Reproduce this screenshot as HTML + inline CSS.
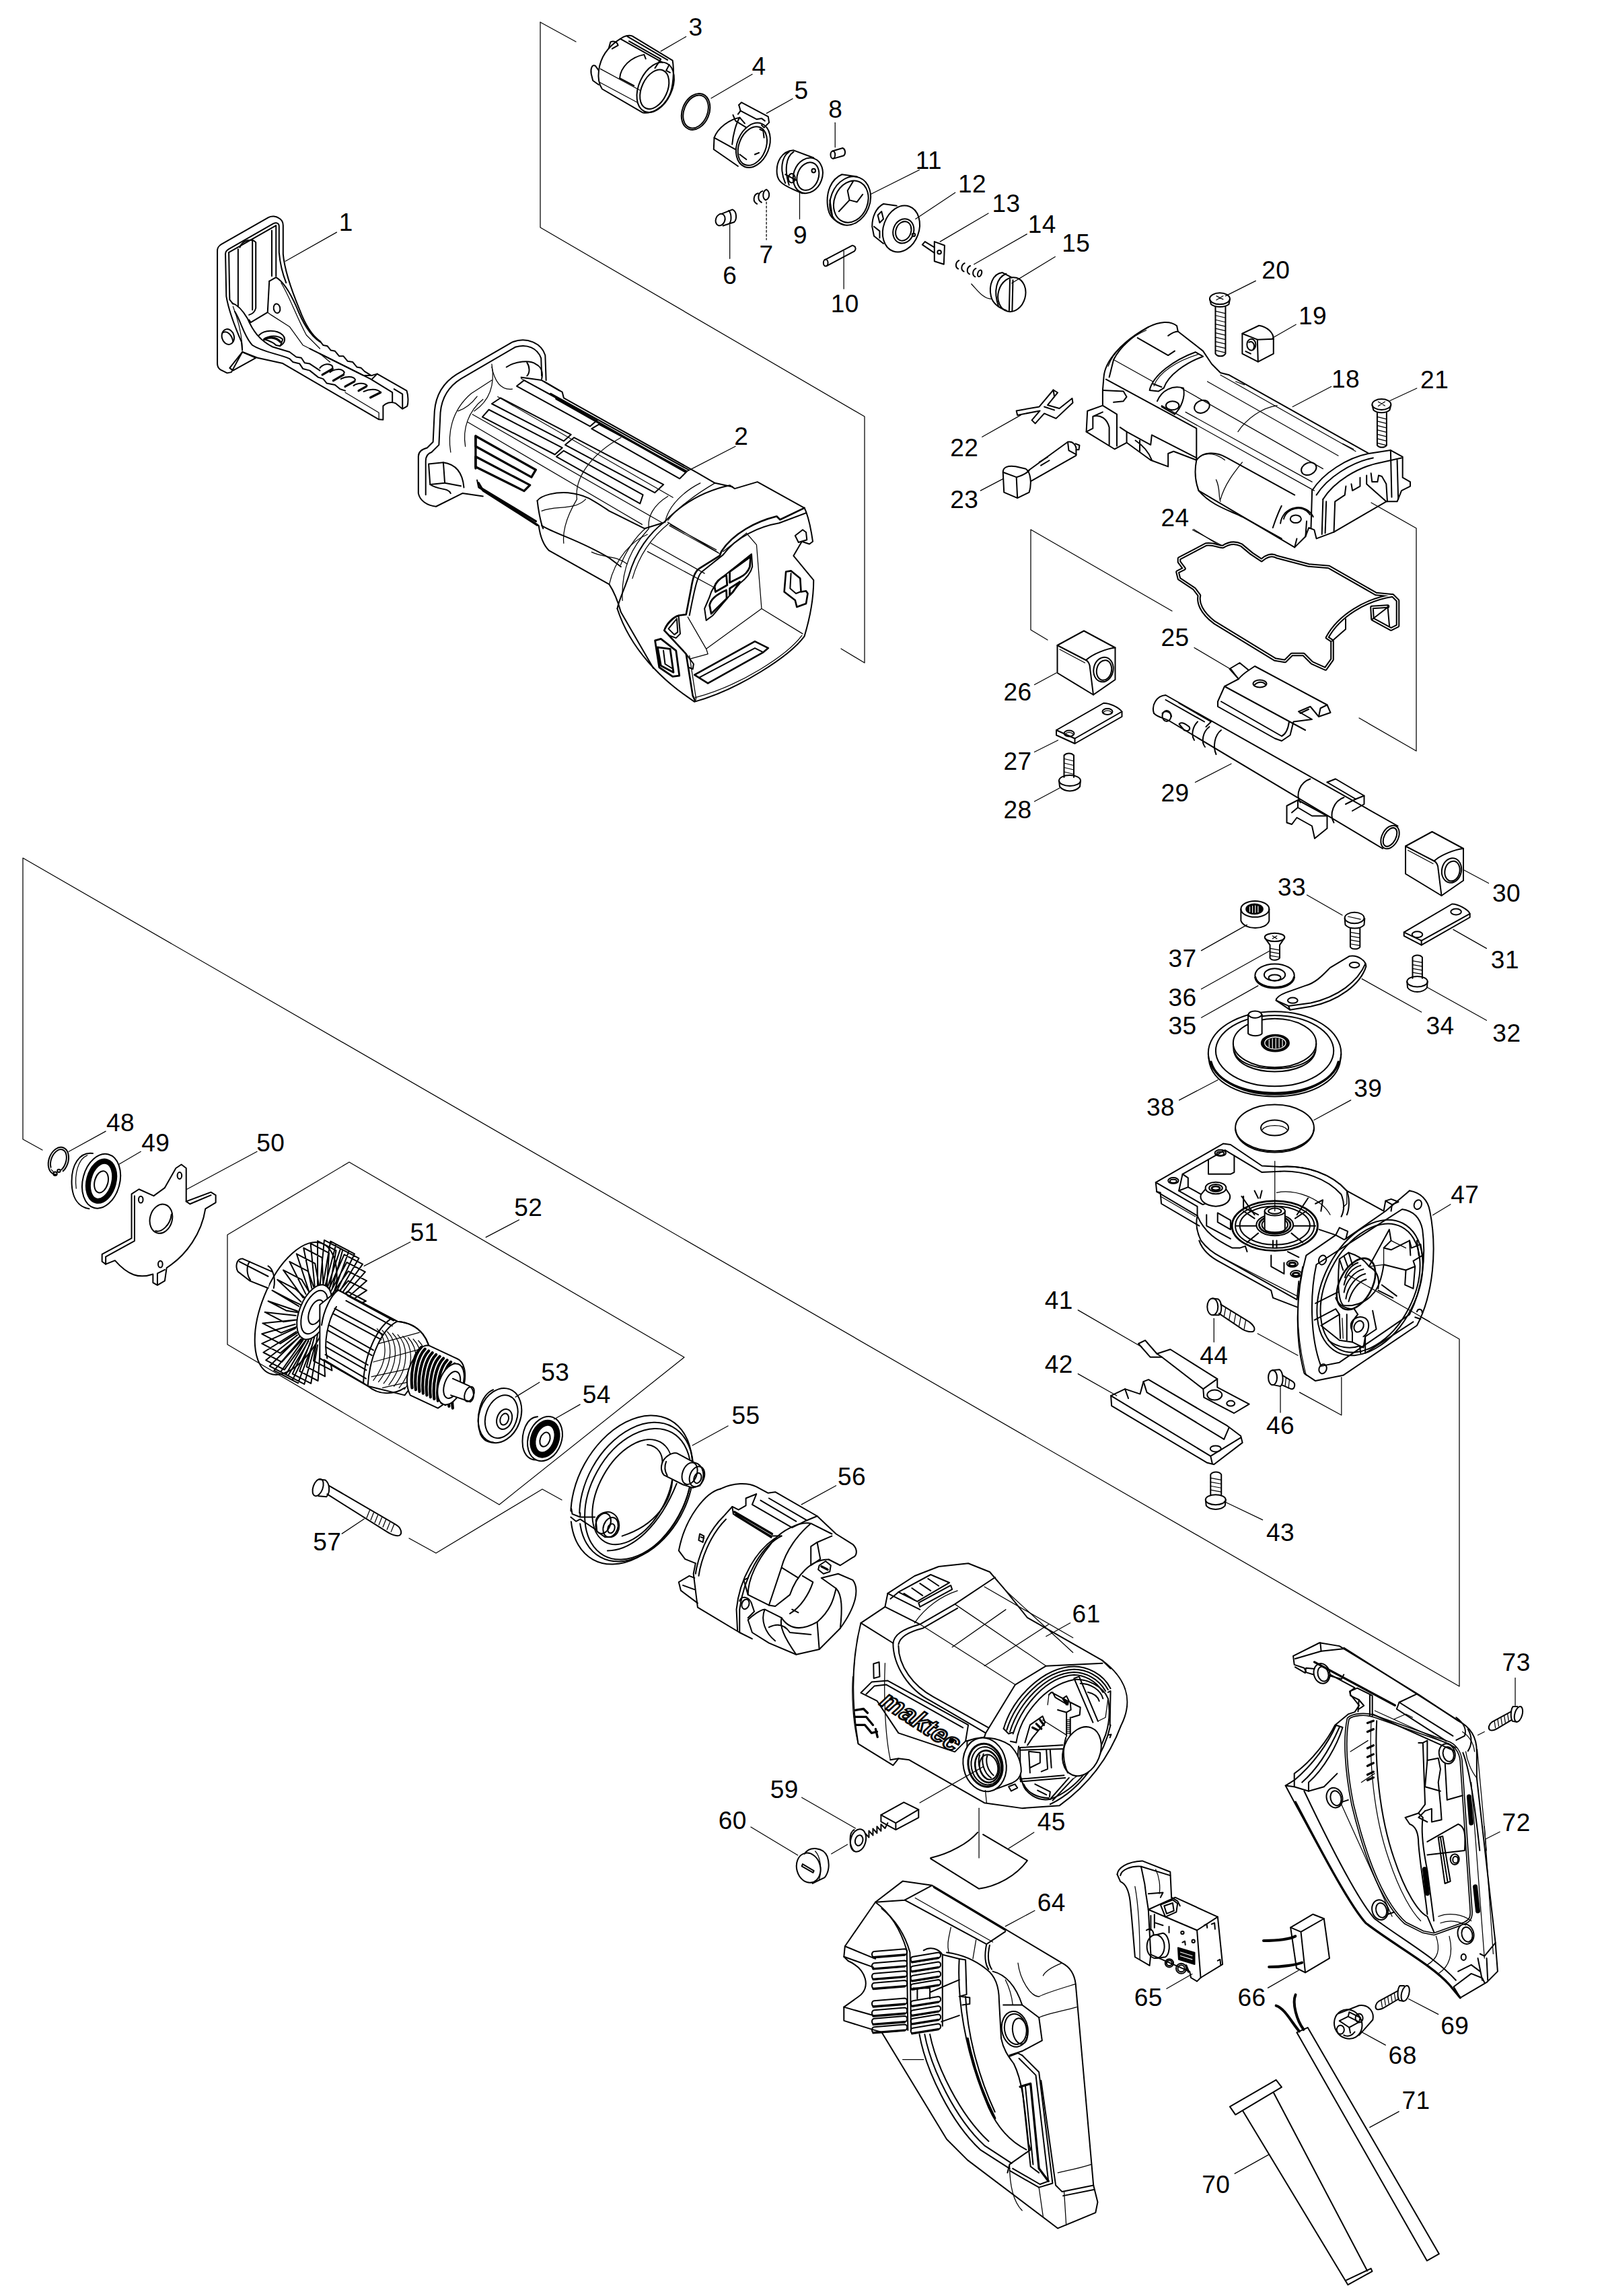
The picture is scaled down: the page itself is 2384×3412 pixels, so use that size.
<!DOCTYPE html>
<html><head><meta charset="utf-8"><title>Parts diagram</title>
<style>
html,body{margin:0;padding:0;background:#fff}
svg{display:block}
.d path,.d line,.d polyline,.d polygon,.d circle,.d ellipse,.d rect{fill:none;stroke:#000;stroke-width:2.0;stroke-linecap:round;stroke-linejoin:round;vector-effect:non-scaling-stroke}
.d .t,.d .t path,.d .t line{stroke-width:1.25}
.d .k,.d .k path{stroke-width:3.3}
.d .f{fill:#000}
.d .w{fill:#fff}
.d{font-size:37.1px}
.d text:not([transform]){transform:translate(0,0.068em);letter-spacing:0.012em}
.d text{font-family:"Liberation Sans",Arial,Helvetica,sans-serif;fill:#000;stroke:none;text-anchor:middle}
</style></head><body>
<svg class="d" width="2384" height="3412" viewBox="0 0 2384 3412">
<g class="t">
<path d="M803 33 L856 62"/><path d="M803 33 L803 338 L1285 619 L1285 985 L1250 964"/>
<path d="M2038 747 L2105 785 L2105 1116 L2020 1067"/>
<path d="M1742 908 L1532 787 L1532 936 L1557 951"/>
<path d="M63 1709 L34 1693 L34 1275 L2169 2506 L2169 1990 L2004 1895"/>
<path d="M338 1835 L519 1727 L1017 2017 L742 2236 L338 1998 Z"/>
<path d="M608 2286 L648 2308 L806 2213 L835 2229"/>
</g>

<g transform="translate(780,0) scale(0.5611)" style="font-size:65.9px">
<!-- part 9 -->
<ellipse cx="750" cy="465" rx="38" ry="48" transform="rotate(20 750 465)"/>
<ellipse cx="750" cy="467" rx="28" ry="38" transform="rotate(20 750 467)"/>
<path d="M765 418 L712 398 C680 400 665 430 668 460 C670 480 680 490 735 512"/>
<path d="M700 402 C680 415 675 450 690 485"/>
<path d="M712 402 C692 415 687 450 700 490"/>
<ellipse cx="707" cy="472" rx="9" ry="12"/>
<path d="M690 462 L720 478"/>
<circle cx="765" cy="452" r="5"/>
<!-- part 11 -->
<ellipse cx="862" cy="532" rx="52" ry="66" transform="rotate(22 862 532)"/>
<ellipse cx="864" cy="534" rx="44" ry="57" transform="rotate(22 864 534)"/>
<path d="M880 468 L840 462 C810 475 798 510 802 545 C805 570 815 585 845 595"/>
<path d="M808 530 L815 575"/>
<path d="M832 560 L860 530 L880 535 L895 515 M860 530 L855 505 L870 480"/>
<!-- part 12 -->
<ellipse cx="997" cy="606" rx="47" ry="63" transform="rotate(20 997 606)"/>
<ellipse cx="1003" cy="612" rx="27" ry="33" transform="rotate(20 1003 612)"/>
<ellipse cx="1003" cy="612" rx="20" ry="26" transform="rotate(20 1003 612)"/>
<path d="M985 545 L950 540 C930 550 920 575 920 600 L925 625 L950 645"/>
<path d="M935 570 L945 560 L950 580 L940 590 Z"/>
<path d="M925 600 L940 612 L940 630"/>
<circle cx="1030" cy="622" r="4"/>
<!-- part 13 -->
<path d="M1085 640 L1112 650 L1110 700 L1085 692 Z"/>
<path d="M1085 655 L1060 640 L1053 648 L1085 670"/>
<circle cx="1098" cy="668" r="5"/>
<!-- part 14 -->
<path d="M1150 690 C1140 695 1140 708 1148 712 M1165 697 C1155 702 1155 715 1163 719 M1180 704 C1170 709 1170 722 1178 726 M1195 711 C1185 716 1185 729 1193 733"/>
<ellipse cx="1205" cy="724" rx="5" ry="9" transform="rotate(20 1205 724)"/>
<path class="t" d="M1183 752 C1200 770 1215 792 1237 792"/>
<!-- part 15 -->
<ellipse cx="1290" cy="780" rx="36" ry="46" transform="rotate(15 1290 780)"/>
<path d="M1290 735 L1265 722 C1240 725 1228 755 1235 785 C1240 805 1255 815 1275 822"/>
<path d="M1275 725 C1250 735 1240 770 1255 812"/>
<path d="M1285 740 L1283 822 M1293 742 L1291 824"/>
<!-- part 6 -->
<ellipse cx="518" cy="582" rx="12" ry="16" transform="rotate(20 518 582)"/>
<path d="M522 566 L550 555 C562 560 562 580 555 588 L525 598"/>
<path d="M540 558 C548 565 548 585 542 592"/>
<!-- part 7 -->
<path d="M618 512 C605 515 603 535 615 540 M630 506 C617 510 615 530 627 536 M640 502 C630 506 628 524 638 530 C650 525 650 508 640 502"/>
<!-- part 8 -->
<path d="M815 400 L842 392 C850 395 850 408 845 412 L818 420"/>
<ellipse cx="816" cy="410" rx="6" ry="10"/>
<!-- part 10 -->
<path d="M795 688 L868 650 C878 652 878 662 872 666 L800 704"/>
<ellipse cx="797" cy="696" rx="6" ry="9"/>
<!-- leaders -->
<g class="t">
<path d="M822 325 L822 390"/>
<path d="M1045 450 L915 515"/><path d="M1140 510 L1035 580"/><path d="M1228 565 L1100 640"/><path d="M1330 620 L1190 700"/>
<path d="M1405 680 L1290 750"/><path d="M728 510 L728 580"/><path d="M640 535 L640 635" stroke-dasharray="3 3"/><path d="M543 595 L543 685"/><path d="M845 665 L845 765"/>
</g>
<text x="823" y="307">8</text>
<text x="1070" y="442">11</text><text x="1185" y="505">12</text><text x="1275" y="557">13</text><text x="1370" y="612">14</text><text x="1460" y="662">15</text>
<text x="730" y="640">9</text><text x="640" y="692">7</text><text x="543" y="747">6</text><text x="848" y="822">10</text>
</g>

<g transform="translate(860,30) scale(0.2494)">
<!-- 3 -->
<path d="M120 300 C130 220 170 160 250 110 C270 95 300 85 320 95 L560 240 C570 300 565 400 540 450 C500 530 430 560 380 550 L140 410 C120 380 115 340 120 300"/>
<ellipse cx="458" cy="400" rx="98" ry="158" transform="rotate(25 458 400)"/>
<ellipse cx="452" cy="412" rx="76" ry="124" transform="rotate(25 452 412)"/>
<path d="M540 265 L522 300 L545 312"/>
<path d="M250 112 L500 252 M290 97 L530 237 M300 125 L490 232 L455 285"/>
<path d="M120 300 L100 272 C80 260 70 290 75 320 L85 360 L120 385"/><path d="M180 165 L190 130 C210 120 230 130 235 150 L200 170"/>
<path class="t" d="M130 290 L370 420 M125 370 L350 490"/>
<path d="M245 345 C250 280 310 220 390 205 L400 230"/><path d="M245 345 L330 390"/>
<!-- 4 -->
<ellipse cx="698" cy="545" rx="80" ry="112" transform="rotate(22 698 545)"/><ellipse cx="698" cy="545" rx="70" ry="102" transform="rotate(22 698 545)"/>
<!-- 5 -->
<ellipse cx="1040" cy="745" rx="95" ry="138" transform="rotate(22 1040 745)"/><ellipse cx="1036" cy="750" rx="80" ry="120" transform="rotate(22 1036 750)"/>
<path d="M990 615 L960 580 C900 590 830 640 808 700 L805 770 L950 870"/><path d="M808 700 L935 770"/><path d="M920 565 L935 600 L1000 640"/>
<path d="M960 580 C940 610 920 680 915 740"/>
<path d="M955 505 L970 490 L1130 575 L1135 610 L1105 640 L1090 625"/><path d="M955 505 L965 540 L1060 590 L1090 585 L1110 600"/><path d="M965 540 L950 560"/>
<path d="M1080 650 L1100 660 L1105 700 M1050 800 L1075 790 M960 800 L1000 830"/>
<g class="t"><path d="M640 98 L490 185"/><path d="M1035 322 L790 465"/><path d="M1275 468 L1120 555"/></g>
</g>
<g><text x="1034" y="50">3</text><text x="1128" y="108">4</text><text x="1191" y="144">5</text></g>

<g transform="translate(300,300) scale(0.2506)" style="font-size:147.9px">
<path d="M92 290 C92 270 100 262 115 252 L395 92 C415 82 440 85 455 95 C475 105 482 120 482 140 L482 310 C490 400 530 520 580 640 C610 720 650 790 700 825 L720 850 L745 855 L765 880 L790 885 L815 915 L840 915 L865 945 L895 950 L920 980 L945 985 L965 1005 L1005 1030 L1040 1020 L1215 1120 C1225 1150 1225 1190 1218 1212 L1190 1228 L1150 1195 C1120 1180 1090 1195 1075 1210 L1075 1292 L1050 1290 L480 958 L330 925 L240 890 L175 1010 L150 1015 L110 995 C95 985 92 975 92 960 Z"/>
<path d="M140 310 C140 295 145 290 160 280 L425 128 C445 120 458 128 458 145 L458 300 C465 380 480 430 500 480"/>
<path d="M140 310 L145 560 C160 650 200 750 235 830 L240 880"/>
<path d="M160 300 L440 140 L440 440"/><path d="M160 300 L165 580 L185 605"/>
<path d="M215 280 L215 620"/><path d="M225 270 C240 225 300 215 320 240 L320 630 C315 650 300 665 280 670"/><path d="M300 220 L300 640"/><path d="M415 170 L415 440"/>
<path d="M400 470 L440 447 C480 470 520 530 560 620 C600 720 640 790 700 830"/>
<path d="M400 470 L390 655 L290 715 L280 700"/>
<path class="t" d="M390 655 L410 670 L520 740 L600 850 L700 900 L760 950"/>
<path class="t" d="M470 480 C520 560 560 680 620 790 L700 870"/>
<path d="M180 600 C210 610 240 640 270 690 C300 760 340 820 420 860 L520 890 L560 920 L590 925 L610 955 L640 960 L700 1000"/>
<path d="M195 650 C230 700 250 800 300 850 C360 890 450 900 520 930 L540 950 L580 960 L600 990 L640 1000 L690 1040 L720 1050 L740 1075 L790 1085 L820 1110 L850 1120"/>
<path class="t" d="M185 620 C215 700 240 800 240 880"/>
<ellipse cx="155" cy="800" rx="36" ry="46" transform="rotate(-15 155 800)"/>
<path d="M125 775 C150 760 180 790 185 830"/>
<ellipse cx="445" cy="632" rx="19" ry="28" transform="rotate(-10 445 632)"/>
<path d="M340 790 C370 760 440 755 480 790 C500 810 490 840 470 850"/>
<path d="M370 815 C400 790 450 790 480 815 L465 855 L440 850 C420 830 390 820 370 815 Z"/>
<path class="k" d="M370 815 C390 800 440 800 465 830"/>
<g class="k">
<path d="M715 1025 L775 990"/><path d="M780 1060 L840 1025"/><path d="M850 1095 L905 1065"/><path d="M930 1120 L975 1095"/><path d="M1000 1160 L1060 1130"/>
</g>
<path d="M700 985 C720 960 760 955 775 975 L775 990 M760 1010 C785 990 830 985 845 1010 L840 1025 M825 1050 C850 1035 900 1030 910 1055 L905 1065 M900 1090 C920 1075 965 1070 980 1090 M960 1125 C990 1110 1040 1105 1060 1130"/>
<path d="M700 900 L1000 1050 L1130 1130 L1130 1185"/><path d="M640 870 L960 1030 L1010 1030"/><path d="M1040 1020 L1010 1050"/><path d="M1140 1110 L1190 1140 L1190 1225"/>
<path d="M165 985 L240 890 L320 925 L185 1000 Z"/>
<path class="t" d="M850 1130 L1050 1250 L1050 1290"/>
<path class="t" d="M800 180 L495 352"/>
<text x="855" y="160">1</text>
</g>

<g transform="translate(600,480) scale(0.4364)" style="font-size:85.0px">
<path d="M485 195 L482 110 C470 70 420 45 370 65 L180 175 C140 200 110 240 105 300 L100 405 L80 425 C60 430 50 440 50 455 L50 580 C55 605 80 622 110 625 L200 580 L270 590"/>
<path d="M470 180 L468 120 C455 85 420 70 380 82 L195 190 C155 215 130 250 125 305 L120 415 L95 440 C80 445 75 455 75 470 L75 585"/>
<path class="t" d="M160 440 C150 380 160 300 230 240 L300 195 M300 140 C310 200 300 260 240 300 M210 420 C200 360 220 300 270 260"/>
<path d="M85 480 L135 475 L140 545 L90 550 Z"/><path d="M135 475 C170 480 200 500 205 560"/><path d="M140 545 L195 555"/><path d="M90 550 C120 570 150 560 160 580"/>
<path d="M350 150 C380 130 430 125 450 140 C470 150 475 170 470 190"/><path d="M420 135 C430 150 430 170 420 180"/>
<path d="M400 185 L470 195 L530 230"/>
<path d="M385 215 L410 195 L660 330 L635 352 Z"/>
<path d="M300 275 L330 255 L570 380 L545 402 Z"/>
<path d="M268 320 L290 295 L540 425 L515 448 Z"/>
<g class="k"><path d="M245 385 L450 500 L435 525 L245 420 Z"/><path d="M245 455 L430 552 L410 572 L245 490 Z"/><path d="M245 385 L245 495"/>
<path d="M255 545 L270 570 L455 688"/><path d="M260 560 L450 675"/><path d="M520 258 L960 507"/></g>
<path d="M640 360 L665 345 L965 505 L940 530 Z"/>
<path d="M550 415 L580 390 L885 550 L855 578 Z"/>
<path d="M520 455 L545 435 L815 585 L805 615 Z"/>
<path d="M480 200 L540 235 L545 255 L1000 510 L1060 545 L1120 558"/>
<path d="M500 240 L970 500"/>
<path d="M250 535 L255 560 L460 690 C465 730 480 760 495 775 L700 890 C720 920 730 950 740 985 L850 1175"/>
<path d="M455 605 C470 585 520 575 560 578 C620 585 640 600 700 640 L820 700 L885 680"/>
<path d="M455 605 C460 650 470 690 475 700"/><path d="M470 690 C520 720 600 740 700 800 L740 830"/>
<g class="t"><path d="M740 390 C650 440 580 520 590 600 C560 650 540 700 545 750"/><path d="M900 590 C850 620 830 660 835 700 C780 760 740 830 745 945"/>
<path d="M1010 545 C960 570 900 620 890 680"/><path d="M1060 545 C1000 580 930 630 900 672"/><path d="M470 640 C520 620 580 640 620 600"/><path d="M640 780 C680 800 720 790 760 820"/>
<path d="M905 690 L1075 785"/><path d="M700 890 C720 800 780 740 830 720"/></g>
<g class="t"><path d="M234 311 L880 680"/><path d="M217 337 L812 686"/><path d="M320 251 L917 594"/><path d="M400 189 L917 480"/><path d="M300 150 C310 200 330 230 370 225"/><path d="M185 300 C215 290 235 270 250 250"/></g>
<path class="t" d="M1130 420 L965 505"/>
<text x="1150" y="410">2</text>
</g>

<g transform="translate(900,680) scale(0.2494)">
<path d="M355 380 C450 280 580 200 740 165 L770 185 L905 145 L1185 300 C1210 350 1225 430 1235 500 L1215 515 L1170 500 L1120 585 L1240 730 C1240 850 1220 950 1185 1065 C1100 1180 800 1380 530 1455 L480 1420 C350 1330 150 1150 70 900"/>
<path style="stroke-width:2.6" d="M1185 300 L1040 370 L1020 350 C900 380 760 450 690 560 L680 585 L560 660 C530 680 520 720 510 780 L480 935 L440 940 C400 950 360 1000 350 1030 L480 1170 L520 1420 L535 1450"/>
<path d="M1195 330 L1035 390 C920 410 780 470 700 580 L575 680 C550 700 535 760 500 940"/>
<path class="t" d="M370 385 L670 565 M385 400 L660 550 M250 560 L640 770 M270 510 L590 690 M535 1430 C800 1360 1080 1180 1170 1060 M500 1180 L540 1440"/>
<path d="M355 380 C260 450 180 560 140 700 C110 790 80 850 70 900"/><path class="t" d="M380 390 C280 470 200 580 160 720 M240 420 C180 470 120 560 90 640"/>
<path class="t" d="M840 450 L900 520 L930 900 L1175 1050 M930 900 L600 1140 L490 950 M600 1140 L610 1170 L500 1200 M840 450 L700 560"/>
<path d="M620 830 C630 790 660 740 700 710 L870 575 L875 650 C865 690 840 720 800 750 L640 940 L600 970 L590 900 Z"/>
<path style="stroke-width:2.8" d="M650 770 C655 745 680 720 720 700 L725 760 L655 800 Z M740 680 L865 590 L860 650 C850 680 830 700 800 715 L740 745 Z M620 880 C625 850 650 820 720 790 L722 840 L630 930 Z M740 780 L800 740 L760 800 L740 820 Z"/>
<path style="stroke-width:2.6" d="M1075 680 L1105 675 L1160 720 L1165 800 L1195 795 L1205 810 L1195 870 L1140 890 L1130 850 L1065 800 Z"/><path d="M1105 690 L1100 780 L1135 810 L1160 800"/>
<path d="M1130 465 L1175 430 L1195 445 L1200 490 L1150 505 Z"/>
<path style="stroke-width:2.8" d="M295 1090 L330 1080 L420 1150 L440 1300 L400 1305 L320 1250 Z M310 1130 L385 1140 L405 1280 L330 1240 Z"/><path d="M345 1150 L355 1230 L395 1255"/>
<path d="M350 1030 C360 990 400 950 435 940 L445 1050 L420 1075 L380 1060 Z"/><path d="M375 1020 L425 960 L430 1040 L410 1055 Z"/>
<path style="stroke-width:2.6" d="M530 1295 L890 1095 L970 1135 L940 1160 L610 1345 Z"/><path d="M560 1310 L890 1135 L940 1160"/>
<path d="M480 1170 L525 1230 L520 1260 L495 1250"/>
</g>

<g transform="translate(1380,370) scale(0.4988)" style="font-size:74.4px">
<!-- screw 20 -->
<ellipse cx="868" cy="148" rx="30" ry="17"/><path d="M838 150 L842 165 C855 175 882 175 895 165 L898 150"/><path class="t" d="M858 140 L878 150 M878 140 L858 152"/>
<path d="M855 172 L855 312 C862 322 878 322 885 312 L885 172"/>
<path class="t" d="M855 185 L885 192 M855 198 L885 205 M855 211 L885 218 M855 224 L885 231 M855 237 L885 244 M855 250 L885 257 M855 263 L885 270 M855 276 L885 283 M855 289 L885 296 M855 302 L885 309"/>
<!-- screw 21 -->
<ellipse cx="1350" cy="463" rx="28" ry="16"/><path d="M1322 465 L1326 480 C1338 490 1362 490 1374 480 L1378 465"/><path class="t" d="M1340 455 L1360 467 M1360 455 L1340 468"/>
<path d="M1337 488 L1337 585 C1344 593 1358 593 1365 585 L1365 488"/>
<path class="t" d="M1337 500 L1365 507 M1337 513 L1365 520 M1337 526 L1365 533 M1337 539 L1365 546 M1337 552 L1365 559 M1337 565 L1365 572 M1337 578 L1365 585"/>
<!-- 19 -->
<path d="M935 252 L985 228 C1010 232 1028 250 1028 268 L1028 312 L982 336 L935 312 Z"/><path d="M935 252 L980 270 L982 336"/><path d="M980 270 L1028 268"/>
<ellipse cx="962" cy="285" rx="13" ry="17"/><path d="M955 278 C965 272 975 285 968 298"/><path d="M945 305 L960 312"/>
<!-- 22 -->
<path d="M262 482 L330 470 L372 420 L385 428 L355 465 L390 475 L428 445 L430 458 L380 505 L345 490 L318 520 L308 510 L332 482 L265 495 Z"/><path d="M345 470 L375 480 M372 420 L375 440"/>
<!-- 23 -->
<path d="M222 665 C222 650 235 645 260 648 L290 655 C305 665 308 700 300 725 L265 742 L225 725 Z"/><path d="M222 665 L262 680 L265 742"/><path d="M262 680 C280 675 295 665 300 660"/>
<path d="M295 662 L415 575 C430 572 442 585 440 600 L440 615 L305 692"/><path d="M415 575 L418 600 L440 612"/><path d="M438 580 L450 585 L448 598 L440 598"/><path d="M330 635 L355 620 M335 645 L360 630"/>
<g class="t"><path d="M975 95 L885 140"/><path d="M1095 225 L1025 265"/><path d="M1200 410 L1085 470"/><path d="M1455 415 L1375 452"/><path d="M160 560 L275 495"/><path d="M155 720 L222 685"/><path d="M790 835 L870 885"/></g>
<text x="1035" y="84">20</text><text x="1145" y="220">19</text><text x="1243" y="407">18</text><text x="1508" y="409">21</text><text x="107" y="612">22</text><text x="107" y="767">23</text><text x="735" y="820">24</text>
</g>

<g transform="translate(1600,460) scale(0.3242)">
<path d="M125 310 C130 240 200 150 330 80 C380 55 430 50 460 75 L465 100 L580 190 L620 250 L660 290 L700 300 L1340 660 L1440 645 L1495 675 L1495 770 L1530 790 L1530 810 L1490 830 L1470 880 L1420 880 L1180 1020 L1100 1050 L1090 1010 L1065 1000 L1050 1040 L1000 1090 L560 830 C545 790 540 740 550 690 L445 650 L420 660 L420 720 L340 690 L230 610 L175 640 L45 560 L50 465 L120 440 L120 370 Z"/>
<path d="M330 80 C260 120 200 170 170 230 L150 310"/><path d="M280 130 L420 210 L450 190"/><path class="t" d="M170 230 L350 330 M145 260 C170 190 240 130 320 95"/><path d="M420 120 C440 105 455 100 465 100"/><path d="M135 320 L550 545 L550 690"/>
<path d="M335 370 C350 300 450 230 545 195 L580 215 C500 245 420 300 400 360 L375 375 Z"/><path d="M350 340 L390 355"/><path class="t" d="M355 350 C375 290 460 235 560 205"/>
<path d="M370 420 C390 370 440 345 490 360 C500 400 480 450 450 480"/><ellipse cx="440" cy="440" rx="30" ry="20"/><path d="M390 445 L450 480"/>
<g class="t"><path d="M480 360 L1130 730"/><path d="M390 440 L1090 830"/><path d="M500 470 L1080 790"/><path d="M600 330 L1200 670"/><path d="M660 300 L1280 650"/><path d="M740 560 C780 500 850 450 920 440"/><path d="M730 330 L770 345 M1220 615 L1270 640"/></g>
<ellipse cx="575" cy="445" rx="36" ry="28" transform="rotate(-25 575 445)"/><ellipse cx="1065" cy="730" rx="36" ry="27" transform="rotate(-25 1065 730)"/>
<ellipse cx="1005" cy="960" rx="25" ry="18"/><path d="M950 960 C960 910 1040 890 1070 940"/><path d="M935 980 C945 900 1050 880 1085 950"/>
<path d="M550 690 C580 650 640 650 690 680 L1000 850"/><path d="M560 830 C620 900 700 920 760 950 L940 1050"/><path class="t" d="M760 700 C720 750 680 800 660 870 M640 780 C660 820 650 860 660 880 M570 670 C600 655 640 660 680 690"/><path d="M940 900 C920 940 910 970 900 1000"/>
<path d="M1080 830 C1130 750 1240 680 1340 660"/><path d="M1100 850 C1150 770 1260 700 1360 680"/><path d="M1130 870 C1180 790 1290 720 1400 700 L1490 680"/>
<path d="M1080 830 L1075 1000"/><path d="M1130 870 L1125 1030"/><path d="M1145 880 L1140 1025"/><path d="M1180 1020 L1185 880 L1230 850 L1235 810 M1260 800 L1265 830 L1300 810 L1300 770"/>
<path d="M1330 760 L1330 800 L1420 880 M1350 750 L1355 790 L1380 790 L1385 760 L1400 765 L1420 800 L1425 880"/><path d="M1440 645 L1445 860"/><path d="M1470 690 L1475 870"/>
<path d="M120 440 L185 480 M45 560 L75 545 L75 490 L120 470 M185 480 L185 625 M75 490 C110 480 140 500 150 540 L150 620"/><path d="M120 370 L215 375 L230 400 L215 420 L170 425"/>
<path d="M230 560 L340 620 L345 575 L550 680"/><path d="M200 540 L230 560 L230 610"/><path d="M270 600 C300 620 330 650 345 690 M290 600 L290 650"/>
<path d="M1050 1040 L1055 970 M1000 1090 L1010 1050"/>
</g>

<g transform="translate(1480,760) scale(0.5)" style="font-size:74.2px">
<path id="gask" style="stroke-width:5.6" d="M545 140 L625 98 C650 95 660 105 675 105 C690 95 710 90 730 100 L760 125 L790 145 C800 135 820 125 835 135 L930 160 L990 165 L1130 245 L1180 250 C1100 262 1020 310 985 375 L1000 385 L1000 440 L980 468 L940 450 L915 425 L880 425 L860 445 L830 440 L650 330 C610 300 600 270 605 250 L590 230 L545 200 L540 180 L560 170 L545 150 Z M1180 250 L1195 265 L1195 340 L1175 350 L1120 320 L1118 285 L1165 282"/>
<path style="stroke:#fff;stroke-width:1.5" d="M545 140 L625 98 C650 95 660 105 675 105 C690 95 710 90 730 100 L760 125 L790 145 C800 135 820 125 835 135 L930 160 L990 165 L1130 245 L1180 250 C1100 262 1020 310 985 375 L1000 385 L1000 440 L980 468 L940 450 L915 425 L880 425 L860 445 L830 440 L650 330 C610 300 600 270 605 250 L590 230 L545 200 L540 180 L560 170 L545 150 Z M1180 250 L1195 265 L1195 340 L1175 350 L1120 320 L1118 285 L1165 282"/>
<path d="M1165 282 L1170 340 M1120 320 L1165 285 M1040 320 L1040 350 L1000 385"/>
<!-- 25 -->
<path d="M660 565 L680 520 L722 498 L695 468 L725 450 L752 472 L770 460 L985 575 L995 598 L960 610 L935 580 L900 595 L940 618 L885 625 L875 665 L850 682 L830 675 L660 580 Z"/>
<path d="M680 520 L920 650 M722 498 C728 490 740 480 752 472 M670 565 L850 668 C865 660 870 640 872 625"/><path d="M700 470 L715 490"/><path d="M960 610 L965 585 L985 575"/><path d="M905 600 L930 588"/>
<ellipse cx="785" cy="512" rx="20" ry="11"/><path d="M770 515 C780 505 795 505 802 515"/>
<!-- 26 & 30 cubes -->
<g id="cube"><path d="M183 398 L262 355 L355 405 L355 500 L290 545 L183 480 Z"/><path d="M183 398 L268 442 C275 445 280 455 280 465 L290 545"/><path d="M268 442 C290 422 330 408 355 405"/>
<ellipse cx="320" cy="470" rx="29" ry="37" transform="rotate(12 320 470)"/><ellipse cx="322" cy="472" rx="22" ry="30" transform="rotate(12 322 472)"/><path class="t" d="M190 410 L265 450"/></g>
<use href="#cube" x="1035" y="597"/>
<!-- 27 -->
<path d="M180 650 L320 570 C335 568 365 582 375 595 L375 610 L235 690 L180 665 Z"/><path d="M180 650 L235 675 L375 595"/><path d="M235 675 L235 690"/>
<ellipse cx="218" cy="660" rx="15" ry="9"/><ellipse cx="332" cy="595" rx="15" ry="9"/><path class="t" d="M206 662 C212 655 224 655 230 662 M320 597 C326 590 338 590 344 597"/>
<!-- 28 -->
<path d="M203 790 L203 725 C210 717 225 717 232 725 L232 790"/><path class="t" d="M203 735 L232 742 M203 748 L232 755 M203 761 L232 768 M203 774 L232 781"/>
<ellipse cx="220" cy="800" rx="32" ry="16"/><path d="M188 800 L190 818 C205 835 235 835 250 818 L252 800"/>
<!-- 29 -->
<path d="M470 600 C462 575 478 548 505 546 L1195 935"/><path d="M470 600 C485 615 500 612 520 625 L1150 1002"/>
<ellipse cx="1172" cy="968" rx="24" ry="37" transform="rotate(28 1172 968)"/><ellipse cx="1172" cy="968" rx="17" ry="30" transform="rotate(28 1172 968)"/>
<path d="M505 560 L620 625"/><path d="M545 570 L640 625 L625 640"/>
<ellipse cx="508" cy="608" rx="13" ry="16"/><path d="M495 600 C505 590 520 595 522 610"/>
<path d="M545 632 C550 625 560 628 575 640 C580 650 570 655 560 650 Z"/>
<path d="M600 625 C585 640 580 665 590 680"/><path d="M635 640 C615 655 610 685 622 700"/><path d="M670 650 C650 665 645 700 655 722"/>
<path d="M935 795 C905 805 890 840 905 865"/><path d="M1035 850 C1005 860 990 900 1005 925"/>
<path d="M865 875 L898 858 L985 905 L985 942 L948 972 L940 935 L895 910 L880 930 L865 925 Z"/><path d="M898 858 L898 880 L940 905 L985 905"/><path d="M898 880 L880 895"/>
<path d="M985 805 L1010 795 L1095 845 L1095 870 L1060 890"/><path d="M985 805 L1070 855 L1095 845"/><path d="M1070 855 L1040 870"/>
<g class="t"><path d="M585 55 L670 100"/><path d="M590 405 L700 470"/><path d="M115 515 L180 480"/><path d="M115 715 L185 680"/><path d="M115 862 L190 822"/><path d="M593 805 L700 750"/><path d="M1465 1105 L1390 1065"/><path d="M925 1140 L1030 1200"/></g>
<text x="533" y="395">25</text><text x="65" y="557">26</text><text x="65" y="762">27</text><text x="65" y="907">28</text><text x="533" y="857">29</text><text x="1518" y="1154">30</text><text x="880" y="1137">33</text>
</g>

<g transform="translate(1660,1290) scale(0.4115)" style="font-size:90.1px">
<!-- 37 -->
<path d="M448 148 L448 190 C460 225 540 225 550 190 L550 148"/><ellipse cx="499" cy="148" rx="51" ry="29"/><ellipse class="f" cx="497" cy="148" rx="30" ry="18"/>
<path style="stroke:#fff;stroke-width:1.2" d="M480 140 L480 158 M490 137 L490 161 M500 136 L500 161 M510 138 L510 159"/>
<!-- 36 -->
<ellipse cx="570" cy="250" rx="36" ry="15"/><path d="M535 253 L553 278 L553 325 C560 335 580 335 588 325 L588 278 L605 253"/><path class="t" d="M553 290 L588 296 M553 303 L588 309 M553 316 L588 322 M562 245 L578 255 M578 245 L562 255"/>
<!-- 35 -->
<ellipse cx="570" cy="388" rx="71" ry="42"/><path class="k" d="M500 395 C510 445 630 445 640 395"/><ellipse cx="570" cy="385" rx="38" ry="22"/><ellipse cx="570" cy="396" rx="22" ry="11"/>
<!-- 33 -->
<ellipse cx="858" cy="180" rx="35" ry="20"/><path d="M823 182 L825 205 C840 222 878 222 893 205 L895 182"/><path class="t" d="M835 175 L880 185"/>
<path d="M843 218 L843 285 C850 295 870 295 878 285 L878 218"/><path class="t" d="M843 232 L878 238 M843 246 L878 252 M843 260 L878 266 M843 274 L878 280"/>
<!-- 34 -->
<path d="M575 478 C575 468 590 458 610 450 L680 425 C720 415 750 380 770 360 L840 318 C870 312 900 335 900 355 C880 420 800 480 700 500 L625 512 Z"/>
<path d="M575 478 L620 498 L700 487 C800 465 870 410 898 345"/><path d="M620 498 L625 512"/>
<ellipse cx="858" cy="350" rx="18" ry="10"/><ellipse cx="635" cy="478" rx="18" ry="10"/>
<!-- 31 -->
<path d="M1037 232 L1210 130 C1230 128 1270 150 1275 165 L1275 178 L1100 278 L1037 245 Z"/><path d="M1037 232 L1100 262 L1275 165"/><path d="M1100 262 L1100 278"/>
<ellipse cx="1085" cy="240" rx="19" ry="11"/><ellipse cx="1225" cy="158" rx="19" ry="11"/>
<!-- 32 -->
<path d="M1068 398 L1068 322 C1075 312 1095 312 1103 322 L1103 398"/><path class="t" d="M1068 335 L1103 341 M1068 349 L1103 355 M1068 363 L1103 369 M1068 377 L1103 383"/>
<ellipse cx="1085" cy="410" rx="37" ry="19"/><path d="M1048 410 L1050 432 C1065 452 1105 452 1120 432 L1122 410"/>
<!-- 38 -->
<ellipse cx="570" cy="668" rx="240" ry="150"/><path d="M330 672 L332 690 C350 870 790 870 808 690 L810 672"/><path class="k" d="M340 700 C380 850 760 850 800 700"/>
<ellipse cx="570" cy="660" rx="213" ry="128"/>
<ellipse cx="570" cy="632" rx="150" ry="88"/><path d="M420 635 L422 660 C440 760 700 760 718 660 L720 635"/><path d="M425 665 C450 745 690 745 715 665"/>
<path class="w" d="M474 598 L474 530 C480 512 518 512 524 530 L524 598 C515 608 485 608 474 598"/><path d="M474 530 C485 545 515 545 524 530"/>
<ellipse class="f" cx="572" cy="632" rx="50" ry="30"/><ellipse style="stroke:#fff;stroke-width:1.3" cx="572" cy="632" rx="38" ry="22"/>
<path style="stroke:#fff;stroke-width:1.2" d="M550 620 L550 646 M562 616 L562 650 M574 615 L574 650 M586 616 L586 648 M598 620 L598 644"/>
<!-- 39 -->
<ellipse cx="570" cy="938" rx="142" ry="84"/><path d="M428 942 C440 1055 700 1055 712 942"/><ellipse cx="570" cy="938" rx="50" ry="28"/><path class="t" d="M525 945 C540 925 600 925 615 945"/>
<g class="t"><path d="M305 298 L470 205"/><path d="M305 437 L550 300"/><path d="M305 540 L510 425"/><path d="M1100 520 L885 400"/><path d="M1335 550 L1120 430"/><path d="M1335 290 L1215 222"/><path d="M225 838 L365 765"/><path d="M845 838 L712 910"/></g>
<text x="237" y="352">37</text><text x="237" y="492">36</text><text x="237" y="595">35</text><text x="1168" y="594">34</text><text x="1408" y="622">32</text><text x="1402" y="357">31</text><text x="158" y="887">38</text><text x="907" y="820">39</text>
</g>

<g transform="translate(1500,1690) scale(0.4988)" style="font-size:74.4px">
<!-- 41 -->
<path d="M385 615 L405 605 L440 645 L480 632 L620 720 L620 745 L715 795 L670 822 L580 775 L578 750 L455 655 L420 655 Z"/><path d="M440 645 L455 655 M578 750 L620 720"/>
<ellipse cx="612" cy="768" rx="22" ry="15"/><ellipse cx="660" cy="793" rx="12" ry="8"/>
<!-- 42 -->
<path d="M303 770 L345 750 L390 765 L400 728 L415 722 L650 860 L690 890 L695 910 L610 975 L590 970 L305 800 Z"/><path d="M303 770 L600 950 L690 895"/><path d="M400 728 L410 760 L640 900 L655 865"/><path d="M345 750 L355 778"/><path d="M600 950 L605 972"/>
<ellipse cx="615" cy="928" rx="16" ry="9"/>
<!-- 43 -->
<path d="M600 1065 L600 1005 C607 995 625 995 632 1005 L632 1065"/><path class="t" d="M600 1015 L632 1021 M600 1027 L632 1033 M600 1039 L632 1045 M600 1051 L632 1057"/>
<ellipse cx="615" cy="1080" rx="30" ry="15"/><path d="M585 1080 L587 1098 C600 1112 630 1112 643 1098 L645 1080"/>
<!-- 44 -->
<ellipse cx="606" cy="505" rx="16" ry="25"/><path d="M606 480 L622 482 C635 490 635 520 625 530 L608 530"/><path d="M630 498 L715 550 C728 560 735 570 728 578 C720 582 705 578 695 572 L625 525"/>
<path class="t" d="M645 508 L640 535 M660 517 L655 544 M675 526 L670 553 M690 535 L685 562 M705 544 L700 571"/>
<!-- 46 -->
<ellipse cx="785" cy="716" rx="13" ry="22"/><path d="M785 694 L805 692 C818 700 818 735 808 742 L788 738"/><path d="M815 710 L845 728 C855 735 850 752 840 750 L812 738"/><path class="t" d="M825 716 L822 742 M835 722 L832 748"/>
<g class="t"><path d="M1315 200 L1262 232"/><path d="M205 515 L395 625"/><path d="M205 705 L320 770"/><path d="M610 540 L610 610"/><path d="M808 745 L808 820"/><path d="M755 1140 L640 1085"/>
<path d="M740 585 L860 650"/><path d="M865 760 L990 828 L990 715"/></g>
<text x="1358" y="192">47</text><text x="148" y="507">41</text><text x="148" y="697">42</text><text x="610" y="670">44</text><text x="808" y="880">46</text><text x="808" y="1197">43</text>
</g>

<g transform="translate(1700,1690) scale(0.2743)">
<path d="M65 245 L430 35 L470 40 L640 155 L740 160 C880 150 1020 200 1100 290 L1300 400 L1310 345 L1340 335 L1380 350 L1440 290"/>
<path d="M65 245 L70 295 L290 425 C280 470 290 520 310 560 C340 600 380 630 420 650 L830 880 L840 780"/>
<path d="M70 295 L90 300 L95 360 L300 480"/><path d="M300 560 C320 620 380 660 420 680 L690 830 L700 870 L830 920"/>
<path d="M65 245 L290 375 L290 425"/><path class="t" d="M90 320 L280 430 M420 650 L830 860"/>
<path d="M190 290 L210 200 L440 70 L490 100 L640 190 L740 185"/><path d="M210 200 L240 220 L240 270 L330 320"/><path d="M350 120 L350 200 L470 200 L490 190 L490 100"/><path d="M240 270 L190 290 L320 365 L410 330"/>
<ellipse cx="415" cy="85" rx="30" ry="17"/><ellipse cx="415" cy="88" rx="20" ry="10"/><ellipse cx="160" cy="235" rx="28" ry="16"/><ellipse cx="160" cy="238" rx="18" ry="9"/>
<path class="w" d="M310 310 C300 340 330 370 390 375 C450 370 475 340 465 310 L445 280 L335 280 Z"/><ellipse class="w" cx="390" cy="275" rx="56" ry="32"/><ellipse cx="390" cy="275" rx="36" ry="20"/><ellipse cx="390" cy="277" rx="22" ry="11" style="stroke-width:2.8"/>
<path d="M740 160 C880 150 1020 200 1100 290 C1120 340 1110 400 1100 420"/><path d="M740 185 C860 180 990 220 1070 310 C1090 360 1085 400 1070 430"/><path class="t" d="M720 300 C820 280 960 330 1010 420 M1100 290 L1100 360 L1080 380"/>
<path d="M290 425 C330 520 400 560 480 600 L520 600 L550 590 L560 620"/>
<ellipse cx="710" cy="480" rx="232" ry="135" style="stroke-width:2.8"/><ellipse cx="710" cy="480" rx="214" ry="121"/><ellipse cx="710" cy="478" rx="190" ry="104"/>
<ellipse cx="710" cy="475" rx="100" ry="58"/><ellipse cx="710" cy="475" rx="85" ry="48" style="stroke-width:2.8"/><ellipse cx="710" cy="475" rx="70" ry="39"/>
<path class="w" d="M655 400 L655 500 C670 520 750 520 765 500 L765 400 Z"/><ellipse class="w" cx="710" cy="400" rx="55" ry="25"/><ellipse cx="710" cy="400" rx="35" ry="15"/>
<path d="M530 320 L600 420 M890 330 L830 420 M500 480 L610 480 M810 480 L930 480 M560 570 L620 520 M860 570 L800 520 M700 560 L700 600 M720 560 L720 600 M540 400 L600 440 M880 400 L820 440"/>
<path d="M400 410 L470 450 L470 500 L400 460 Z"/><path d="M540 320 L540 380 L620 420"/><path d="M340 420 L340 480 L470 550"/><path d="M600 290 L620 330 M640 290 L630 330"/>
<path d="M690 640 L690 700 L760 740 L760 680"/><path d="M780 620 L840 650"/><path d="M930 360 L970 340 L960 400 M950 500 L1040 530"/>
<ellipse class="w" cx="805" cy="685" rx="30" ry="18"/><ellipse cx="805" cy="688" rx="18" ry="9" style="stroke-width:2.8"/><ellipse class="w" cx="825" cy="740" rx="30" ry="18"/><ellipse cx="825" cy="743" rx="18" ry="9" style="stroke-width:2.8"/>
<!-- flange -->
<path class="w" d="M880 640 L1040 530 L1060 490 L1105 510 L1095 550 L1310 400 L1440 290 C1500 300 1540 340 1550 400 C1590 600 1570 850 1480 1020 L1080 1290 L930 1320 L870 1280 C820 1100 820 850 880 640 Z"/>
<path d="M1040 530 L1085 555 L1095 550 M1310 345 L1345 365 L1380 350 M1345 365 L1340 400"/>
<path d="M935 690 L1400 390 C1470 400 1500 450 1510 500 C1530 650 1510 820 1440 960 L1060 1220 L960 1240 C900 1080 900 850 935 690"/>
<path class="t" d="M860 700 C820 900 830 1100 880 1290"/>
<ellipse cx="1485" cy="365" rx="20" ry="26" transform="rotate(20 1485 365)"/><ellipse cx="968" cy="665" rx="20" ry="26" transform="rotate(20 968 665)"/><ellipse cx="970" cy="1255" rx="20" ry="26" transform="rotate(20 970 1255)"/><path d="M1480 945 C1485 925 1510 930 1508 950 M1470 975 L1500 985"/>
<ellipse cx="1225" cy="815" rx="252" ry="392" transform="rotate(27 1225 815)"/><ellipse cx="1227" cy="817" rx="236" ry="372" transform="rotate(27 1227 817)"/>
<path d="M1060 660 L1110 625 C1160 640 1200 670 1220 700 L1330 500 L1340 560 L1300 600 L1340 610 L1440 560 L1450 600 L1500 580 L1510 640 L1460 670 L1470 700 L1420 720 L1300 690 C1290 760 1270 820 1240 850 C1200 900 1130 920 1080 910 C1050 880 1050 760 1060 660"/>
<path d="M1060 660 L1080 720 M1085 645 L1105 700 M1110 625 L1130 690"/>
<ellipse cx="1150" cy="795" rx="88" ry="150" transform="rotate(28 1150 795)" style="stroke-width:2.6"/>
<path d="M1090 760 C1100 720 1130 690 1160 680 M1085 800 C1095 745 1135 705 1175 695 M1085 840 C1095 775 1145 725 1190 715 M1095 875 C1105 805 1155 750 1200 740 M1110 890 C1125 830 1165 780 1205 770"/>
<path d="M1220 700 C1260 720 1280 760 1270 820"/>
<path d="M1040 870 C1050 900 1080 930 1140 930 L1160 960 C1130 990 1120 1020 1130 1060 L1130 1110 L1190 1140 L1200 1080 L1260 1040 L1240 940"/>
<ellipse cx="1165" cy="1025" rx="24" ry="32" transform="rotate(30 1165 1025)"/><path d="M1125 1040 C1110 990 1160 960 1200 980 C1230 1000 1220 1060 1190 1080"/>
<path d="M930 900 L1050 840"/><path d="M925 990 L1040 930 L1060 960 L960 1020 L1060 1100 L1130 1110"/><path d="M1060 960 L1065 1090 M1100 960 L1100 1100"/><path d="M1200 1080 L1200 1170 L1460 1000"/>
<path d="M1290 800 L1370 860 M1270 830 L1350 870"/><path d="M1420 720 L1415 800 L1460 820 L1470 700"/><path d="M1480 560 L1490 640 M1440 560 L1445 640"/><path d="M1000 1100 C1050 1140 1120 1150 1170 1130 L1175 1170"/>
<path class="t" d="M1075 980 L1080 1090 M1300 600 L1300 690 M1340 560 L1420 600 M1300 690 L1220 700"/>
<path class="t" d="M710 130 L710 400"/>
<path class="t" d="M1108 747 L1550 1000"/>
</g>

<g transform="translate(20,1640) scale(0.5486)" style="font-size:67.6px">
<ellipse cx="122" cy="155" rx="26" ry="38" transform="rotate(20 122 155)"/><ellipse cx="122" cy="155" rx="20" ry="32" transform="rotate(20 122 155)"/><path class="w" style="stroke:none" d="M100 175 L125 200 L135 185 L112 168 Z"/><circle cx="113" cy="190" r="5"/><circle cx="123" cy="182" r="4"/>
<path d="M215 135 C180 130 155 165 158 220 C160 255 175 280 205 285"/><ellipse cx="238" cy="210" rx="50" ry="75" transform="rotate(15 238 210)"/><ellipse cx="238" cy="210" rx="34" ry="55" transform="rotate(15 238 210)" style="stroke-width:8"/><ellipse cx="238" cy="212" rx="18" ry="30" transform="rotate(15 238 212)"/><path class="t" d="M200 140 C175 150 165 190 170 230"/>
<path d="M240 408 L320 365 L320 245 L340 232 L380 250 L410 228 L440 175 L455 165 L468 175 L468 265 L535 240 L548 248 L548 268 L520 285 C510 350 470 410 415 445 L410 480 L390 492 L378 485 L378 462 C340 475 310 465 275 425 L250 435 L240 428 Z"/>
<path d="M250 415 L328 372 L328 250 M468 265 L478 272 L535 248 M410 450 L390 460 L390 490 M250 415 L250 435"/>
<ellipse cx="400" cy="312" rx="30" ry="40" transform="rotate(15 400 312)"/><path d="M385 345 C400 350 425 330 428 300"/><ellipse cx="345" cy="260" rx="6" ry="9"/><ellipse cx="450" cy="195" rx="6" ry="9"/><ellipse cx="398" cy="435" rx="6" ry="9"/>
<ellipse cx="765" cy="555" rx="92" ry="190" transform="rotate(22 765 555)"/>
<path d="M851 581 L879 598 L929 624 M876 601 L929 624 M845 593 L865 627 L915 653 M870 612 L915 653 M839 604 L849 653 L899 679 M864 623 L899 679 M832 614 L832 676 L882 702 M856 633 L882 702 M824 623 L813 697 L863 723 M848 641 L863 723 M816 630 L794 713 L844 739 M840 647 L844 739 M808 636 L775 725 L825 751 M832 652 L825 751 M800 639 L756 732 L806 758 M824 654 L806 758 M793 641 L738 734 L788 760 M817 655 L788 760 M785 640 L721 731 L771 757 M810 653 L771 757 M779 638 L706 723 L756 749 M804 650 L756 749 M773 633 L694 711 L744 737 M799 644 L744 737 M769 627 L684 695 L734 721 M795 637 L734 721 M766 618 L677 674 L727 700 M792 628 L727 700 M764 609 L673 650 L723 676 M791 618 L723 676 M763 598 L673 624 L723 650 M791 607 L723 650 M763 586 L675 595 L725 621 M792 595 L725 621 M765 574 L681 565 L731 591 M795 582 L731 591 M769 562 L690 535 L740 561 M799 570 L740 561 M773 549 L701 506 L751 532 M804 557 L751 532 M779 537 L715 477 L765 503 M810 546 L765 503 M785 526 L731 451 L781 477 M816 535 L781 477 M792 516 L748 428 L798 454 M824 525 L798 454 M800 507 L767 407 L817 433 M832 517 L817 433 M808 500 L786 391 L836 417 M840 511 L836 417 M816 494 L805 379 L855 405 M848 506 L855 405 M824 491 L824 372 L874 398 M856 504 L874 398 M831 489 L842 370 L892 396 M863 503 L892 396 M839 490 L859 373 L909 399 M870 505 L909 399 M845 492 L874 381 L924 407 M876 508 L924 407 M851 497 L886 393 L936 419 M881 514 L936 419 M855 503 L896 409 L946 435 M885 521 L946 435 M858 512 L903 430 L953 456 M888 530 L953 456 M860 521 L907 454 L957 480 M889 540 L957 480 M861 532 L907 480 L957 506 M889 551 L957 506 M861 544 L905 509 L955 535 M888 563 L955 535 M859 556 L899 539 L949 565 M885 576 L949 565 M855 568 L890 569 L940 595 M881 588 L940 595"/>
<ellipse class="w" cx="815" cy="565" rx="40" ry="78" transform="rotate(22 815 565)"/><ellipse cx="815" cy="565" rx="30" ry="62" transform="rotate(22 815 565)"/><ellipse cx="820" cy="565" rx="18" ry="35" transform="rotate(22 820 565)"/>
<path class="w" d="M700 455 L620 420 C605 420 600 440 608 455 L640 480 L690 500"/><path d="M640 428 C630 440 632 465 642 478 M612 428 L690 468"/><path d="M690 440 C700 445 712 470 705 500"/>
<path class="w" d="M830 545 L880 505 L1040 590 C1100 595 1135 640 1128 700 L1060 790 L960 765 L830 690 Z"/>
<path d="M880 505 L1040 590 C1100 595 1135 640 1128 700"/><path d="M830 690 L960 765 C990 790 1030 790 1060 770"/>
<path d="M1040 590 C1000 610 965 680 960 765"/><path d="M1020 585 C985 610 950 680 948 758"/>
<path d="M835 600 C840 560 860 520 880 505"/><path d="M850 690 C840 650 850 590 875 550"/>
<path d="M905 520 L1030 588"/><path d="M901 534 L1026 602"/>
<path d="M870 555 L1000 625"/><path d="M866 569 L996 639"/>
<path d="M855 600 L975 668"/><path d="M851 614 L971 682"/>
<path d="M850 645 L960 708"/><path d="M846 659 L956 722"/>
<path d="M845 680 L955 745"/><path d="M841 694 L951 759"/>
<path class="t" d="M985 610 C1015 640 1015 700 975 750 M999 614 C1029 644 1029 704 989 754 M1013 618 C1043 648 1043 708 1003 758 M1027 622 C1057 652 1057 712 1017 762 M1041 626 C1071 656 1071 716 1031 766 M1055 630 C1085 660 1085 720 1045 770 M1069 634 C1099 664 1099 724 1059 774 M1083 638 C1113 668 1113 728 1073 778 M1097 642 C1127 672 1127 732 1087 782"/>
<path class="t" d="M990 650 L1100 620 M975 700 L1120 660 M970 740 L1110 710 M1000 770 L1090 750"/>
<path class="w" d="M1085 690 C1090 670 1105 655 1125 655 L1200 690 C1225 700 1230 740 1215 780 L1150 825 L1075 790 C1060 760 1065 720 1085 690"/>
<path style="stroke-width:4.2" d="M1105 660 C1085 680 1075 730 1080 770 M1115 665 C1095 685 1085 735 1090 775 M1125 670 C1105 690 1095 740 1100 780 M1135 675 C1115 695 1105 745 1110 785 M1145 680 C1125 700 1115 750 1120 790 M1155 685 C1135 705 1125 755 1130 795 M1165 690 C1145 710 1135 760 1140 800 M1175 695 C1155 715 1145 765 1150 805 M1185 700 C1165 720 1155 770 1160 810 M1195 705 C1175 725 1165 775 1170 815 M1205 710 C1185 730 1175 780 1180 820 M1215 715 C1195 735 1185 785 1190 825"/>
<ellipse class="w" cx="1185" cy="760" rx="32" ry="58" transform="rotate(20 1185 760)"/><ellipse cx="1188" cy="762" rx="20" ry="38" transform="rotate(20 1188 762)"/>
<path class="w" d="M1190 745 L1235 765 C1250 775 1250 800 1238 808 L1185 790"/><ellipse cx="1235" cy="787" rx="12" ry="21" transform="rotate(20 1235 787)"/>
<ellipse cx="1318" cy="845" rx="56" ry="76" transform="rotate(20 1318 845)"/><path d="M1300 775 C1265 790 1250 850 1265 895 C1272 910 1285 918 1300 918"/><ellipse cx="1322" cy="848" rx="42" ry="60" transform="rotate(20 1322 848)"/><ellipse cx="1330" cy="855" rx="20" ry="28" transform="rotate(20 1330 855)"/><ellipse cx="1330" cy="855" rx="11" ry="16" transform="rotate(20 1330 855)"/>
<path d="M1420 848 C1390 850 1375 890 1380 930 C1385 955 1400 965 1415 965"/><ellipse cx="1440" cy="908" rx="45" ry="62" transform="rotate(20 1440 908)"/><ellipse cx="1440" cy="908" rx="31" ry="45" transform="rotate(20 1440 908)" style="stroke-width:9"/><ellipse cx="1440" cy="910" rx="13" ry="20" transform="rotate(20 1440 910)"/>
<ellipse cx="825" cy="1040" rx="13" ry="24" transform="rotate(20 825 1040)"/><path d="M828 1018 L845 1020 C858 1030 858 1055 848 1065 L826 1063"/><path d="M855 1035 L1035 1140 C1050 1148 1055 1165 1045 1170 C1035 1172 1025 1168 1015 1162 L850 1058"/>
<path class="t" d="M965 1102 L957 1122 M976 1108 L968 1128 M987 1115 L979 1135 M998 1121 L990 1141 M1009 1127 L1001 1147 M1020 1134 L1012 1154 M1031 1140 L1023 1160"/>
<g class="t"><path d="M250 75 L150 130"/><path d="M345 130 L285 165"/><path d="M660 130 L470 232"/><path d="M1370 315 L1280 362"/><path d="M1075 375 L950 440"/><path d="M1425 755 L1360 795"/><path d="M1535 815 L1465 855"/><path d="M890 1165 L950 1125"/></g>
<text x="290" y="70">48</text><text x="385" y="124">49</text><text x="697" y="124">50</text><text x="1395" y="300">52</text><text x="1113" y="367">51</text><text x="1468" y="747">53</text><text x="1580" y="807">54</text><text x="850" y="1205">57</text>
</g>
<g transform="translate(800,2080) scale(0.3117)" style="font-size:119.0px">
<!-- 55 -->
<ellipse cx="445" cy="430" rx="256" ry="380" transform="rotate(29 445 430)"/>
<ellipse cx="468" cy="440" rx="240" ry="355" transform="rotate(29 468 440)"/>
<ellipse cx="475" cy="450" rx="222" ry="335" transform="rotate(29 475 450)"/>
<ellipse cx="450" cy="440" rx="160" ry="272" transform="rotate(29 450 440)"/>
<path d="M520 215 C570 220 600 260 590 320 M640 370 C640 480 560 600 400 650 M330 720 C450 720 580 600 660 400"/>
<path class="w" d="M590 305 C600 270 640 250 660 255 L745 300 C790 310 800 370 770 410 L735 420 L690 405 L600 360 C585 345 585 320 590 305 Z"/>
<ellipse cx="722" cy="352" rx="34" ry="54" transform="rotate(20 722 352)"/><ellipse cx="757" cy="367" rx="34" ry="50" transform="rotate(20 757 367)"/><ellipse cx="760" cy="374" rx="17" ry="25" transform="rotate(20 760 374)"/>
<path d="M610 295 C600 320 605 345 615 362"/>
<path class="w" d="M275 575 C285 540 330 528 352 540 C395 560 400 640 350 655 L318 655 L280 628 Z"/>
<ellipse cx="310" cy="590" rx="34" ry="50" transform="rotate(20 310 590)"/><ellipse cx="345" cy="608" rx="34" ry="48" transform="rotate(20 345 608)"/><ellipse cx="348" cy="614" rx="16" ry="23" transform="rotate(20 348 614)"/>
<path class="w" style="stroke:none" d="M140 530 L205 545 L205 590 L140 575 Z"/>
<path d="M158 520 L162 545 L200 560 L270 560 M155 560 L180 580 L200 570 L275 620 M200 540 L200 560"/>
<!-- 56 -->
<path d="M870 425 C800 440 700 560 670 720 L700 760 L750 780"/>
<path d="M870 425 C930 395 1000 395 1040 415 L1095 445 L1130 440 L1330 555 L1420 640 L1500 690 C1525 715 1520 745 1500 752 L1440 790 L1385 762"/>
<path d="M1100 700 C1150 620 1250 580 1300 590 L1400 640 M1385 762 C1300 760 1230 840 1200 930 L1130 985 L1100 980 L1000 930 C1000 850 1050 760 1100 700"/>
<path d="M1300 590 C1240 640 1180 720 1160 800 L1100 980 M1160 800 L1240 850"/>
<path d="M1300 700 L1330 680 L1345 760 L1300 790 Z M1330 680 L1400 650"/>
<path d="M1000 1050 C1020 1030 1060 1000 1080 1000 L1160 1040 C1200 1100 1260 1100 1330 1060 C1400 1000 1410 940 1420 900 L1350 850 L1430 830 L1500 860 C1530 900 1520 980 1440 1090 L1340 1190 L1230 1215 L1100 1160 L1020 1110 Z"/>
<path d="M1080 1000 C1060 1050 1080 1110 1130 1150 M1160 1040 C1150 1080 1170 1130 1230 1215 M1330 1060 L1340 1190 M1420 900 C1450 930 1450 1000 1440 1090 M1100 1085 C1150 1060 1180 1080 1200 1110 L1300 1120"/>
<path d="M750 780 L740 830 L760 990 L960 1110 L1020 1140"/><path d="M670 870 L720 840 L745 850 M670 870 L680 910 L760 970"/><path d="M690 885 L745 905"/>
<path d="M880 560 C800 640 760 760 750 830"/><path d="M895 570 C815 650 775 770 765 840"/>
<path d="M880 560 L925 510 L955 525 L990 505 L990 470 L1040 450"/><path d="M925 510 L930 545 L1110 650 L1160 650"/>
<path class="k" d="M935 535 L1115 640 M940 550 L1110 655"/>
<path d="M1040 450 L1020 500 L1210 610 L1270 580 L1330 555"/><path d="M1060 480 L1230 580 M1100 470 L1280 575"/>
<path d="M1160 650 C1060 700 980 850 960 1000 L960 1110"/><path d="M1130 660 C1040 720 960 850 945 1000 L950 1100"/>
<path d="M1000 930 L980 860 L1000 850"/>
<ellipse cx="988" cy="975" rx="17" ry="24" transform="rotate(20 988 975)"/><path d="M960 960 C970 930 1010 940 1020 980 L1030 1010 L1000 1040"/>
<path d="M1340 790 L1370 770 L1395 790 L1390 820 L1360 830 L1335 810 Z"/><path class="k" d="M1350 795 L1380 810"/>
<path d="M1260 840 L1310 870 C1290 930 1250 990 1200 1020 M1210 1000 L1240 1015"/>
<path d="M770 640 L790 650 L785 680 L765 670 Z M775 655 L790 660"/>
<g class="t"><path d="M905 125 L735 218"/><path d="M1420 410 L1255 500"/></g>
<text x="990" y="108">55</text><text x="1495" y="398">56</text>
</g>

<g transform="translate(1080,2340) scale(0.399)" style="font-size:92.9px">
<!-- 61 -->
<path d="M600 70 L700 5 L790 -30 L900 -42 L980 -10 L1040 60 L1120 160 L1400 320 L1430 350"/>
<path d="M1400 320 C1480 380 1520 460 1470 560 C1440 640 1380 760 1240 860 L1100 870 L960 850 L680 690 L640 685 L620 710 L490 630 C460 450 470 300 500 180 L590 120 L600 70"/>
<path d="M590 120 L720 185"/><path d="M500 180 L620 255"/>
<path d="M620 255 C625 225 650 205 720 185 L850 110 L1000 10"/><path d="M640 260 C645 235 670 215 730 200 L860 125"/>
<path d="M620 255 C620 340 680 430 760 470 L965 590"/><path d="M640 265 C640 340 695 415 770 455 L975 570"/>
<path d="M965 590 L1075 410 L1190 340 L1400 330"/>
<g class="t"><path d="M840 270 L1040 130"/><path d="M960 340 L1200 185"/><path d="M720 185 L1075 410"/><path d="M850 110 L1190 340"/><path d="M1040 60 L1290 290"/><path d="M960 45 L1290 235"/><path d="M590 330 C585 450 590 600 610 690"/><path d="M470 380 C465 450 470 550 490 630"/><path d="M700 180 C740 120 800 80 860 60"/></g>
<path d="M640 65 L760 0 L830 30 L710 100 Z"/><path d="M660 70 L700 95 M690 50 L730 78 M720 33 L760 60 M750 15 L790 42"/><path d="M715 105 L835 40 L840 55 L720 120 Z"/>
<path d="M610 90 L640 65 M600 70 L720 130"/>
<path d="M547 332 L568 326 L570 380 L548 386 Z"/>
<path d="M500 440 L540 400 L600 395 L900 560 L890 620 L850 660 L640 590 L560 470 Z"/><path d="M520 445 L550 415 L595 410 L880 570"/>
<path d="M890 620 L960 605 L965 590"/><path d="M610 690 L640 685"/>
<g class="k"><path d="M480 505 L510 500 L525 515 M478 530 L520 530 L545 560 M482 560 L515 560 L540 590 L560 585 M555 575 L562 605"/></g>
<text transform="translate(562,480) rotate(33) skewX(-14)" style="font-size:96px;font-weight:bold;text-anchor:start;fill:#fff;stroke:#000;stroke-width:6.5">maktec</text>
<circle class="f" cx="838" cy="618" r="8"/>
<!-- 59 -->
<path d="M575 895 L660 848 L715 875 L715 905 L630 950 L575 920 Z"/><path d="M575 895 L630 925 L715 875 M630 925 L630 950"/>
<path d="M600 925 L590 945 L575 930 L575 955 L560 938 L560 963 L545 946 L545 971 L530 954 L530 979 L518 965"/>
<ellipse cx="490" cy="990" rx="28" ry="43" transform="rotate(15 490 990)"/><ellipse cx="493" cy="990" rx="14" ry="20" transform="rotate(15 493 990)"/><path d="M475 950 C455 960 455 1010 475 1030"/>
<!-- 60 -->
<path d="M290 1040 C310 1010 360 1015 375 1050 C385 1080 380 1110 365 1128 L320 1150"/><ellipse cx="305" cy="1092" rx="44" ry="56" transform="rotate(-15 305 1092)"/><path d="M283 1078 L325 1103 L322 1110 L280 1086 Z"/>
<path class="t" d="M330 1030 C350 1050 355 1100 345 1135"/>
<!-- 45 -->
<path d="M760 1055 C830 1040 900 1000 935 960 M955 968 L1120 1065 C1080 1120 1010 1160 940 1170 L760 1058"/>
<g class="t"><path d="M940 870 L940 1055"/><path d="M1280 180 L1190 230"/><path d="M280 830 L480 945"/><path d="M90 940 L265 1045"/><path d="M1145 960 L1050 1020"/><path d="M390 1040 L450 1005"/></g>
<text x="1340" y="172">61</text><text x="215" y="827">59</text><text x="22" y="942">60</text><text x="1210" y="947">45</text>
</g>

<g transform="translate(1400,2440) scale(0.187)">
<path d="M490 690 C560 450 800 200 1050 195 C1150 195 1280 250 1340 370"/>
<path d="M515 700 C585 470 810 225 1050 218 C1140 218 1260 265 1320 380"/>
<path d="M540 715 C610 490 820 250 1050 240 C1130 240 1240 285 1300 390"/>
<path d="M565 730 C635 510 830 275 1050 262 C1120 262 1220 300 1280 400"/>
<path d="M590 800 C620 600 800 350 1050 300 C1150 290 1280 350 1320 450 C1340 560 1330 650 1300 740 C1220 960 1080 1170 860 1250 C760 1270 660 1200 640 1120 C600 1000 600 900 610 830"/>
<path d="M490 690 L530 730 L560 720 M545 790 L590 800"/>
<path d="M1340 660 C1300 850 1150 1150 860 1290"/>
<path d="M1050 290 L1200 640 M1090 275 L1240 630 M1050 290 L1090 275"/>
<path d="M620 840 L960 820 M620 860 L960 850 M620 1090 L970 1060 M630 1110 L980 1080 M860 1250 L1010 1080 M880 1260 L1040 1090 M620 840 L625 1110"/>
<path d="M850 420 L870 400 L1020 480 L1025 540 L990 560 L920 540 M880 400 L900 440 L1000 500"/><path d="M1020 480 L1100 520 L1095 580 L1030 600"/><path d="M990 560 L990 750 M1020 600 L1020 740"/>
<path class="t" d="M990 620 L1020 620 M990 635 L1020 635 M990 650 L1020 650 M990 665 L1020 665 M990 680 L1020 680 M990 695 L1020 695 M990 710 L1020 710 M990 725 L1020 725"/>
<path d="M960 450 L990 430 L1010 470 L990 500 Z"/><path class="k" d="M965 455 L1000 490"/>
<path d="M690 870 L700 1040 M690 870 L780 880 L780 960 L700 1000"/><path d="M830 860 L840 1010 L790 1030 M860 860 L870 1000"/>
<path d="M660 800 L700 660 L800 590 L820 640 L720 760 L680 820"/><path class="k" d="M720 680 L760 700 M750 650 L790 690 M780 620 L810 660"/>
<path d="M740 1130 L860 1190 L855 1230 M760 1180 L830 1215 M650 1130 C680 1200 760 1240 850 1240"/>
<path d="M1100 330 C1180 330 1260 380 1280 450 M1160 400 C1210 410 1240 440 1250 470"/><path d="M1320 400 L1340 390 L1335 660"/><path d="M1320 740 L1345 735 L1335 760"/>
<path class="t" d="M800 620 L990 740 M850 420 L840 500 M1240 630 L1300 600 L1320 450 M1040 1090 L1200 980 L1300 740"/>
<ellipse class="w" cx="1112" cy="870" rx="145" ry="202" transform="rotate(22 1112 870)"/>
<path d="M985 760 C960 850 960 950 1000 1040"/>
<!-- tube -->
<path class="w" d="M200 790 C300 740 450 760 540 820 C600 880 630 950 630 1030 C620 1080 600 1100 560 1120 L400 1180 L200 1000 Z"/>
<ellipse class="w" cx="340" cy="975" rx="170" ry="215" transform="rotate(-12 340 975)"/>
<ellipse cx="345" cy="980" rx="135" ry="172" transform="rotate(-12 345 980)" style="stroke-width:3"/>
<ellipse cx="352" cy="985" rx="118" ry="152" transform="rotate(-12 352 985)"/>
<ellipse cx="360" cy="990" rx="95" ry="128" transform="rotate(-12 360 990)" style="stroke-width:2.6"/>
<ellipse cx="372" cy="995" rx="72" ry="100" transform="rotate(-12 372 995)"/>
<path d="M300 900 C280 960 300 1050 360 1090 M330 890 C310 950 330 1040 390 1080 M360 905 C345 950 360 1020 410 1060"/>
<path d="M530 1150 L580 1130 L600 1160 L550 1185 Z"/>
<path class="t" d="M-176 1278 L330 990"/>
<path class="t" d="M345 1180 L355 1280"/>
</g>

<g transform="translate(1220,2780) scale(0.3117)" style="font-size:119.0px">
<path d="M390 50 L530 70 L1150 440 C1190 460 1210 500 1215 540 L1300 1500 L1320 1580 L1310 1630 L1130 1705 L700 1380 L600 1280 L290 770 L255 760 L110 715 L110 650 L180 600 C240 560 220 470 130 430 L110 410 L115 360 L260 150 Z"/>
<path d="M260 150 L400 140 L530 70"/><path d="M400 140 L790 350 L880 290"/><path d="M790 350 C780 400 780 440 800 470"/><path d="M805 355 C795 400 795 440 815 470"/>
<path class="k" d="M540 78 L880 282"/>
<path d="M115 360 L260 420"/><path d="M110 410 L250 460"/><path d="M110 650 L250 690"/>
<path d="M260 150 C330 200 380 280 410 380 L415 760"/><path d="M290 180 C350 230 400 300 425 390 L430 760"/>
<path class="t" d="M450 130 L820 340 M620 270 C610 320 600 350 610 390 M740 330 C735 360 730 390 725 420"/>
<path d="M255 385 L400 373 C415 375 415 399 400 401 L255 413 C240 411 240 387 255 385 Z"/><path class="k" d="M250 413 L400 401"/>
<path d="M255 440 L400 428 C415 430 415 454 400 456 L255 468 C240 466 240 442 255 440 Z"/><path class="k" d="M250 468 L400 456"/>
<path d="M255 490 L400 478 C415 480 415 504 400 506 L255 518 C240 516 240 492 255 490 Z"/><path class="k" d="M250 518 L400 506"/>
<path d="M255 535 L400 523 C415 525 415 549 400 551 L255 563 C240 561 240 537 255 535 Z"/><path class="k" d="M250 563 L400 551"/>
<path d="M255 620 L400 608 C415 610 415 634 400 636 L255 648 C240 646 240 622 255 620 Z"/><path class="k" d="M250 648 L400 636"/>
<path d="M255 665 L400 653 C415 655 415 679 400 681 L255 693 C240 691 240 667 255 665 Z"/><path class="k" d="M250 693 L400 681"/>
<path d="M255 705 L400 693 C415 695 415 719 400 721 L255 733 C240 731 240 707 255 705 Z"/><path class="k" d="M250 733 L400 721"/>
<path d="M255 745 L400 733 C415 735 415 759 400 761 L255 773 C240 771 240 747 255 745 Z"/><path class="k" d="M250 773 L400 761"/>
<path d="M440 410 L560 390 C575 392 575 414 560 416 L440 436 C425 434 425 412 440 410 Z"/><path class="k" d="M435 436 L560 416"/>
<path d="M440 455 L560 435 C575 437 575 459 560 461 L440 481 C425 479 425 457 440 455 Z"/><path class="k" d="M435 481 L560 461"/>
<path d="M440 500 L560 480 C575 482 575 504 560 506 L440 526 C425 524 425 502 440 500 Z"/><path class="k" d="M435 526 L560 506"/>
<path d="M440 540 L560 520 C575 522 575 544 560 546 L440 566 C425 564 425 542 440 540 Z"/><path class="k" d="M435 566 L560 546"/>
<path d="M440 620 L560 600 C575 602 575 624 560 626 L440 646 C425 644 425 622 440 620 Z"/><path class="k" d="M435 646 L560 626"/>
<path d="M440 665 L560 645 C575 647 575 669 560 671 L440 691 C425 689 425 667 440 665 Z"/><path class="k" d="M435 691 L560 671"/>
<path d="M440 705 L560 685 C575 687 575 709 560 711 L440 731 C425 729 425 707 440 705 Z"/><path class="k" d="M435 731 L560 711"/>
<path d="M440 750 L560 730 C575 732 575 754 560 756 L440 776 C425 774 425 752 440 750 Z"/><path class="k" d="M435 776 L560 756"/>
<path d="M440 560 L520 560 L520 610 M460 565 L460 610 M520 580 L660 520 M575 720 L660 690"/>
<path d="M490 380 C520 360 560 370 580 400 L660 420"/><path d="M580 400 L580 740"/>
<path d="M660 420 L690 425 L695 590 L660 600"/><path d="M660 420 C650 600 680 850 800 1130 C840 1220 900 1290 980 1330"/><path d="M690 600 C700 800 760 1000 830 1150"/><path class="k" d="M700 800 C730 950 780 1080 830 1180"/>
<path d="M670 600 L710 605 L710 635 L675 640"/>
<path d="M600 390 C680 400 740 430 790 470 C830 500 850 550 850 620 L860 800 C870 850 890 880 920 920 C960 1000 970 1100 990 1300 L1000 1330 L900 1400 L890 1440"/>
<path d="M870 640 L960 640 L1040 700 L1055 810 L960 860 L900 880"/><path d="M820 480 C900 500 940 580 960 640"/>
<ellipse cx="925" cy="755" rx="62" ry="85" transform="rotate(-10 925 755)"/><ellipse cx="928" cy="755" rx="52" ry="73" transform="rotate(-10 928 755)"/><ellipse cx="950" cy="765" rx="35" ry="62" transform="rotate(-10 950 765)"/>
<path d="M960 880 L1040 960 L1105 1490 L1040 1510 L900 1430"/><path d="M945 895 L1025 975 L1085 1480 L1045 1495 L915 1420"/><path d="M900 885 L940 870 L960 880"/>
<path class="k" d="M950 1030 L1000 1015 L1040 1420 L1085 1480"/><path d="M975 1025 L1012 1400 M960 1035 L1000 1410 L1040 1440"/>
<g class="t"><path d="M1215 540 C1150 560 1080 580 1040 600"/><path d="M1150 440 C1100 460 1070 480 1060 500"/><path d="M940 440 C950 520 1000 600 1040 600"/><path d="M1220 650 C1150 670 1080 680 1040 700"/><path d="M1290 1400 C1230 1420 1170 1430 1130 1440"/><path d="M900 1400 C900 1500 920 1580 960 1620"/><path d="M1040 1510 L1060 1650"/><path d="M1160 1530 L1170 1690"/><path d="M390 900 L490 900"/><path d="M880 520 C900 560 910 590 915 640"/></g>
<path d="M1300 1500 L1150 1530 L1120 1500 L1050 1000"/><path d="M1305 1520 L1155 1550"/>
<path d="M470 780 C500 950 620 1200 760 1330 L900 1420"/><path d="M495 780 C525 940 640 1180 780 1310 L910 1395"/><path d="M520 780 C550 930 660 1160 800 1290"/>
<path class="t" d="M1020 190 L880 265"/><text x="1100" y="183">64</text>
</g>
<g transform="translate(1860,2420) scale(0.3267)" style="font-size:113.5px">
<path d="M190 125 L310 65 L400 80 L760 300 L940 420 C1000 450 1025 500 1025 560 L1025 680 L1110 1430 L1120 1560 L1070 1610 L950 1680 L900 1620 C820 1530 650 1440 520 1340 C440 1250 300 980 200 800 L155 715 L195 690 L195 660 C280 600 350 500 380 440 L440 390 L470 380 L490 350 L450 300 L450 285 L470 270 L330 195 L300 215 L250 200 L240 180 L195 165 Z"/>
<path class="k" d="M200 790 C300 980 440 1250 520 1340 C650 1440 820 1530 900 1620 L950 1680"/>


<path d="M240 740 C340 950 480 1230 560 1320 C680 1410 840 1500 930 1600"/>
<path class="t" d="M400 780 L640 1310 M500 700 L560 660 M450 560 L530 510 M1025 680 C1000 650 980 600 975 560 M1060 900 L1100 1480 M1000 700 L1060 1500 M960 470 C990 490 1010 520 1015 560"/>
<path style="stroke-width:4.5" d="M440 410 C460 390 520 385 560 400 L900 520 C940 540 955 580 955 620 L1000 1290 C1000 1320 990 1330 970 1340 L830 1390 L780 1380 L700 1340 C600 1250 520 1050 460 800 C430 650 420 500 440 410 Z"/>
<path style="stroke:#fff;stroke-width:1.2" d="M440 410 C460 390 520 385 560 400 L900 520 C940 540 955 580 955 620 L1000 1290 C1000 1320 990 1330 970 1340 L830 1390 L780 1380 L700 1340 C600 1250 520 1050 460 800 C430 650 420 500 440 410 Z"/>
<path d="M570 420 C560 600 580 850 650 1050 C700 1200 760 1290 800 1310 L830 1380"/><path class="t" d="M545 420 C535 600 555 850 625 1050 C675 1200 730 1290 770 1330"/>
<path d="M700 860 L760 840 L780 860 C770 920 780 1000 800 1100 L830 1330"/><path d="M700 860 L720 890 C750 900 760 940 760 980 C770 1100 790 1200 800 1300"/>
<path d="M760 520 L780 520 L790 800 L760 840 M780 520 L800 510 L800 600 L850 590 L860 640 L850 700 L860 800 L865 870 L820 880 L820 820 L790 830"/>
<path d="M800 600 L790 720 L860 740 M880 600 L890 780 L960 760 M790 830 L760 860 L800 880"/>
<path d="M850 950 L870 945 L905 1150 L880 1160 Z"/><path d="M860 950 L892 1150"/><path d="M800 970 L940 890 C970 900 975 930 970 1010 L800 1030"/>
<g class="k"><path d="M528 430 L555 420 M528 470 L555 458 M528 545 L555 532 M528 585 L555 572 M528 625 L555 612 M528 665 L555 652 M528 690 L555 678"/>
<path style="stroke-width:7" d="M990 765 L1000 885 M1018 1175 L1030 1285 M788 1095 L800 1205"/></g>
<g id="boss72"><ellipse class="w" cx="320" cy="205" rx="36" ry="46" transform="rotate(-15 320 205)"/><ellipse cx="326" cy="207" rx="24" ry="34" transform="rotate(-15 326 207)"/></g>
<use href="#boss72" x="58" y="565"/><use href="#boss72" x="265" y="1075"/><use href="#boss72" x="655" y="1185"/><use href="#boss72" x="570" y="365"/>
<path d="M355 215 L410 230 L420 210 M410 790 L440 780 M620 1300 L650 1290"/>
<path d="M195 690 C280 620 350 520 385 440 L415 450 C390 530 330 640 260 700 L260 740 L195 720 Z"/><path d="M230 700 C300 640 360 540 400 450 M195 720 L155 715 M260 740 L330 720 L390 660"/>

<ellipse cx="925" cy="1050" rx="20" ry="24"/><ellipse cx="928" cy="1052" rx="12" ry="15"/><ellipse cx="965" cy="1495" rx="11" ry="14"/>
<path class="t" d="M850 1310 C900 1290 960 1300 1000 1330 M860 1340 C900 1325 940 1330 975 1350 M840 1400 C860 1460 850 1500 800 1530 M900 1400 C920 1480 900 1540 850 1570"/>
<path d="M950 1680 L920 1630 L1000 1570 L1050 1590 L1060 1610 M940 1560 L1000 1530 L1040 1560 M1030 1500 L1050 1600 M1070 1500 L1075 1600"/>
<path d="M1110 1430 L1060 1490 L1040 1480"/>
<!-- 73 -->
<ellipse cx="1215" cy="390" rx="17" ry="36" transform="rotate(15 1215 390)"/><path d="M1210 355 L1190 355 C1178 370 1178 410 1188 422 L1205 425"/><path d="M1182 378 L1095 425 C1080 435 1075 455 1085 462 C1095 466 1110 460 1120 454 L1185 415"/>
<path class="t" d="M1165 388 L1170 420 M1150 396 L1155 428 M1135 404 L1140 436 M1120 412 L1125 444 M1105 420 L1110 452"/>
<!-- 69 -->
<ellipse cx="700" cy="1660" rx="17" ry="36" transform="rotate(15 700 1660)"/><path d="M695 1625 L675 1625 C663 1640 663 1680 673 1692 L690 1695"/><path d="M667 1648 L580 1695 C565 1705 560 1725 570 1732 C580 1736 595 1730 605 1724 L670 1685"/>
<path class="t" d="M650 1658 L655 1690 M635 1666 L640 1698 M620 1674 L625 1706 M605 1682 L610 1714 M590 1690 L595 1722"/>
<!-- 68 -->
<ellipse cx="440" cy="1800" rx="62" ry="68" transform="rotate(-30 440 1800)"/><path d="M395 1752 L490 1715 C530 1710 560 1740 552 1780 L490 1850"/>
<path d="M400 1785 L440 1765 L490 1790 L445 1815 Z M440 1765 L445 1745 L495 1770 L490 1790"/><ellipse cx="405" cy="1825" rx="17" ry="20"/><ellipse cx="490" cy="1772" rx="17" ry="20"/><path d="M445 1815 L450 1840 M420 1850 C440 1860 460 1850 470 1835"/>
<!-- 66 -->
<path d="M178 1360 L280 1300 L330 1320 L355 1500 L245 1565 L205 1545 Z"/><path d="M178 1360 L225 1380 L245 1565 M225 1380 L330 1320"/>
<path style="stroke-width:4" d="M55 1420 C120 1420 170 1415 200 1400 M80 1540 C140 1540 200 1530 230 1520"/>
<g class="t"><path d="M1200 225 L1200 350"/><path d="M1030 485 L1060 470"/><path d="M1130 925 L1065 958"/><path d="M850 1755 L715 1685"/><path d="M610 1895 L500 1835"/><path d="M75 1635 L215 1555"/></g>
<text x="1205" y="184.5">73</text><text x="1205" y="914.5">72</text><text x="925" y="1839.5">69</text>
</g>

<g transform="translate(1900,2430) scale(0.2494)">
<path d="M250 45 L255 95 L100 140"/><path d="M255 95 L395 80"/><path class="k" d="M215 160 L695 418"/>
<path d="M390 75 L825 350 L720 400 L705 440 L1000 630"/><path d="M720 400 L1040 600 M825 350 L1090 520"/>
<path d="M100 190 L160 225 L165 195 L215 200"/>
<path d="M425 335 L470 315 L560 360 L560 480 M425 335 L430 360 L480 385 L475 455 M545 355 L545 480"/><path d="M480 385 L510 420 L480 440"/>
<path d="M1060 490 C1100 520 1125 560 1110 600 L1060 625"/><path d="M1130 560 C1160 610 1150 660 1130 690"/>
<path d="M560 470 L1050 690"/><path class="t" d="M575 450 L1060 670 M690 500 L760 470 L800 490"/>
<path d="M1100 700 C1140 800 1170 1000 1200 1283"/><path class="t" d="M1185 680 L1240 1283"/>
</g>

<g transform="translate(1620,2760) scale(0.3616)" style="font-size:102.6px">
<!-- 65 -->
<path d="M112 70 C115 45 150 18 215 15 L330 60 L335 165"/><path d="M112 70 L125 100 C150 110 160 140 165 180 C175 280 180 350 185 410 L245 445 L250 400"/>
<path d="M125 75 C130 50 170 35 210 38 L225 110 L230 150 L240 215"/><path d="M210 38 L330 75"/><path class="t" d="M185 120 C200 200 205 300 205 420 M270 50 C285 80 290 120 285 150"/>
<path d="M240 215 L350 165 L525 245 L545 440 L455 495 L440 510 L415 495 L410 470 L250 400 Z"/><path d="M240 215 L440 300 L455 495"/><path d="M440 300 L525 245"/>
<path d="M290 195 L340 175 L360 190 L355 225 L310 245 Z M305 200 L340 188 L345 220 L315 232 Z"/><path d="M240 150 L300 145 L290 165 M335 165 L360 180 L370 200"/>
<path d="M250 240 L250 300 M265 235 L265 290 M270 270 L300 280 M325 285 L325 310"/>
<ellipse cx="270" cy="367" rx="36" ry="48"/><path d="M270 319 L300 312 C330 320 335 395 310 410 L275 415"/><path d="M232 300 C245 290 260 295 262 320"/>
<circle cx="326" cy="435" r="17"/><circle cx="326" cy="435" r="11"/><circle cx="375" cy="457" r="21"/><circle cx="375" cy="457" r="14"/><path class="k" d="M395 445 L405 470"/>
<path class="f" d="M362 372 L430 392 L430 440 L365 420 Z"/><path style="stroke:#fff;stroke-width:1.2" d="M372 390 L420 405 M372 405 L420 420"/>
<circle cx="380" cy="310" r="6"/><circle cx="425" cy="345" r="6"/><path d="M380 350 L390 345 L392 360 M470 280 L480 275 L482 290 M500 275 L512 270 L514 295 M525 425 L535 420 L537 440"/>
<!-- 70 -->
<path d="M575 1025 L765 915 L788 945 L598 1058 Z"/><path d="M628 1042 L1050 1740 M755 968 L1140 1700"/><path d="M1050 1740 L1155 1690 L1160 1702 L1060 1757 Z"/>
<!-- 71 -->
<path d="M850 720 L895 700 L1435 1630 L1385 1658 Z"/>
<path style="stroke-width:4" d="M765 610 C800 620 830 680 860 715 M845 565 C830 600 850 670 878 708"/>
<g class="t"><path d="M315 540 L420 480"/><path d="M1270 1045 L1150 1110"/><path d="M595 1300 L735 1222"/></g>
<text x="240" y="605">65</text><text x="665" y="605">66</text><text x="1285" y="843">68</text><text x="1340" y="1028">71</text><text x="518" y="1373">70</text>
</g>

</svg>
</body></html>
